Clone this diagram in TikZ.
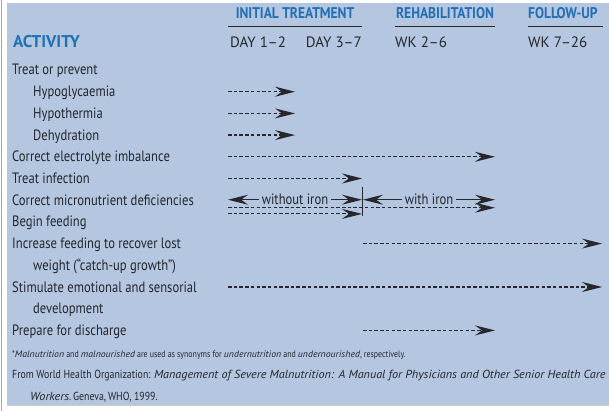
\documentclass[tikz,border=0pt]{standalone}
\usepackage{fontspec}
\setmainfont[FakeStretch=0.84]{PT Sans}
\newfontfamily\capfont[FakeStretch=1.0, Ligatures=TeX]{PT Sans}
\newfontfamily\headfont[FakeStretch=0.87, Ligatures=TeX]{PT Sans}
\newfontfamily\widefont[FakeStretch=1.04, Ligatures=TeX]{PT Sans}
\newcommand\wit[1]{{\widefont\itshape #1}}
\usetikzlibrary{arrows.meta}

\definecolor{panel}{RGB}{180,198,224}
\definecolor{headblue}{RGB}{33,112,180}
\definecolor{ink}{RGB}{38,38,44}

\begin{document}
\begin{tikzpicture}[
  x=1pt, y=-1pt, font=\fontsize{15}{17}\selectfont, text=ink,
  act/.style={anchor=base west, inner sep=0pt},
  period/.style={anchor=base west, inner sep=0pt, font=\capfont\fontsize{15}{17}\selectfont},
  head/.style={font=\headfont\fontsize{15.5}{17}\selectfont\bfseries, text=headblue, inner sep=0pt},
  note/.style={anchor=base west, inner sep=0pt, font=\fontsize{11.7}{14}\selectfont},
  rule/.style={draw=ink, line width=0.8pt},
  tip/.style={-{Stealth[length=20pt, width=10pt, inset=7pt]}},
  dasharr/.style={tip, draw=ink, line width=1.2pt, dash pattern=on 3.5pt off 2.2pt},
  ironarr/.style={{Stealth[length=20pt, width=10pt, inset=7pt]}-{Stealth[length=20pt, width=10pt, inset=7pt]}, draw=ink, line width=1.1pt},
  ironlab/.style={fill=panel, inner xsep=3pt, inner ysep=1pt}]
\useasboundingbox (0,0) rectangle (609,411);
% --- panel
\fill[panel] (7,3) rectangle (609,405);
\draw[black!35, line width=1pt] (1.5,0) -- (1.5,411);
\draw[black!20, line width=0.6pt] (7,405.5) -- (609,405.5);
% --- columns
\coordinate (d1) at (228,0);
\coordinate (d2) at (295,0);
\coordinate (d7) at (362,0);
\coordinate (w2) at (395,0);
\coordinate (w6) at (495,0);
\coordinate (w7) at (528,0);
\coordinate (w26) at (603,0);
% --- phase headings
\node[head] (init) at (295,13) {INITIAL TREATMENT};
\node[head] (rehab) at (445,13) {REHABILITATION};
\node[head, anchor=west] (follow) at (528,13) {FOLLOW-UP};
\draw[rule] (228,26.5) -- (362,26.5);
\draw[rule] (395,26.5) -- (495,26.5);
\draw[rule] (528,26.5) -- (603,26.5);
\node[act, font=\capfont\fontsize{17}{18}\selectfont\bfseries, text=headblue] (activity) at (13,48) {ACTIVITY};
\node[period] (day12) at (230,48) {DAY 1--2};
\node[period, anchor=base east] (day37) at (362,48) {DAY 3--7};
\node[period] (wk26) at (395,48) {WK 2--6};
\node[period] (wk726) at (528,48) {WK 7--26};
% --- activities
\node[act] (treat) at (12,75) {Treat or prevent};
\node[act] (hypog) at (33,96.7) {Hypoglycaemia};
\node[act] (hypot) at (33,118.4) {Hypothermia};
\node[act] (dehyd) at (33,140.1) {Dehydration};
\node[act] (elec) at (12,161.8) {Correct electrolyte imbalance};
\node[act] (infect) at (12,183.5) {Treat infection};
\node[act] (micro) at (12,205.2) {Correct micronutrient deficiencies};
\node[act] (begin) at (12,226.9) {Begin feeding};
\node[act] (incr) at (12,248.6) {Increase feeding to recover lost};
\node[act] (incr2) at (33,270.3) {weight (``catch-up growth'')};
\node[act] (stim) at (12,292) {Stimulate emotional and sensorial};
\node[act] (stim2) at (33,313.7) {development};
\node[act] (disch) at (12,335.4) {Prepare for discharge};
% --- time bars
\draw[dasharr] ([yshift=5pt]d1 |- hypog.base) -- ([yshift=5pt]d2 |- hypog.base);
\draw[dasharr] ([yshift=5pt]d1 |- hypot.base) -- ([yshift=5pt]d2 |- hypot.base);
\draw[dasharr] ([yshift=5pt]d1 |- dehyd.base) -- ([yshift=5pt]d2 |- dehyd.base);
\draw[dasharr] ([yshift=5pt]d1 |- elec.base) -- ([yshift=5pt]w6 |- elec.base);
\draw[dasharr] ([yshift=5pt]d1 |- infect.base) -- ([yshift=5pt]d7 |- infect.base);
\draw[ironarr] ([yshift=5.5pt]d1 |- micro.base) -- node[ironlab]{without iron} ([yshift=5.5pt]d7 |- micro.base);
\draw[ironarr] ([yshift=5.5pt,xshift=1pt]d7 |- micro.base) -- node[ironlab]{with iron} ([yshift=5.5pt]w6 |- micro.base);
\draw[ink, line width=1pt] ([yshift=18pt]d7 |- micro.base) -- ([yshift=-11pt]d7 |- micro.base);
\draw[dasharr] ([yshift=-2.5pt]d1 |- micro.base) -- ([yshift=-2.5pt]w6 |- micro.base);
\draw[dasharr] ([yshift=13pt]d1 |- begin.base) -- ([yshift=13pt]d7 |- begin.base);
\draw[dasharr] ([yshift=5pt,xshift=1pt]d7 |- incr.base) -- ([yshift=5pt,xshift=-1pt]w26 |- incr.base);
\draw[dasharr] ([yshift=5pt]d1 |- stim.base) -- ([yshift=5pt,xshift=-1pt]w26 |- stim.base);
\draw[dasharr] ([yshift=5pt,xshift=1pt]d7 |- disch.base) -- ([yshift=5pt]w6 |- disch.base);
% --- footnotes
\node[note, font=\fontsize{9.4}{11}\selectfont] (fn) at (12,357) {*\wit{Malnutrition} and \wit{malnourished} are used as synonyms for \wit{undernutrition} and \wit{undernourished}, respectively.};
\node[note] (src) at (12,378.5) {From World Health Organization: \wit{Management of Severe Malnutrition: A Manual for Physicians and Other Senior Health Care}};
\node[note] (src2) at (30,400) {\wit{Workers}.\,Geneva,\,WHO, 1999.};
\end{tikzpicture}
\end{document}
